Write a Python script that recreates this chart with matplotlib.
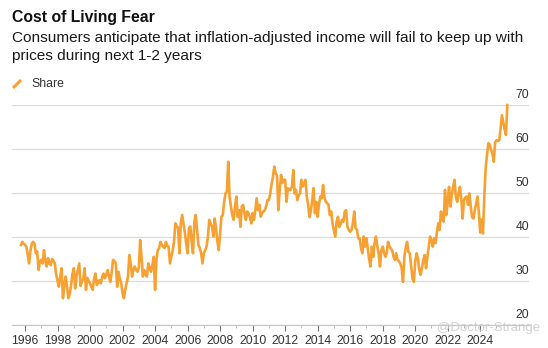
import numpy as np
import matplotlib
matplotlib.use("Agg")
import matplotlib.pyplot as plt
from matplotlib.lines import Line2D
import matplotlib.transforms as mtransforms

plt.rcParams["font.family"] = ["Liberation Sans", "DejaVu Sans"]

title = "Cost of Living Fear"
subtitle_lines = ["Consumers anticipate that inflation-adjusted income will fail to keep up with",
                  "prices during next 1-2 years"]
series_name = "Share"

# monthly readings, Oct 1995 through Sep 2025
first_month = 1995 + 9 / 12
share = [
    38.2, 38.9, 38.5,                                                    # 1995
    38.2, 37.8, 36.0, 34.0, 36.8, 38.5, 38.9, 38.5, 36.3, 36.7, 32.5, 34.5,  # 1996
    34.8, 34.0, 37.0, 34.5, 33.3, 35.2, 34.0, 33.6, 35.0, 34.6, 34.0, 31.5,  # 1997
    30.0, 28.7, 31.0, 32.9, 26.1, 29.0, 31.0, 28.7, 26.1, 27.0, 29.1, 31.5,  # 1998
    32.9, 28.3, 31.0, 32.5, 34.0, 28.9, 30.0, 30.5, 32.9, 28.0, 30.7, 30.0,  # 1999
    29.5, 28.6, 28.0, 30.5, 31.7, 29.1, 29.8, 30.2, 29.5, 31.0, 31.7, 30.6,  # 2000
    31.5, 32.5, 31.0, 29.8, 32.0, 34.8, 34.5, 34.0, 28.7, 32.1, 30.5, 29.5,  # 2001
    27.2, 26.1, 28.0, 29.5, 31.0, 35.9, 34.0, 31.0, 32.5, 33.3, 32.6, 32.1,  # 2002
    33.0, 39.3, 35.5, 31.0, 32.5, 31.5, 31.0, 34.0, 33.0, 32.1, 33.5, 35.5,  # 2003
    28.0, 34.8, 37.0, 37.5, 38.9, 38.2, 37.8, 37.5, 38.9, 38.0, 37.8, 34.0,  # 2004
    35.5, 37.0, 38.9, 43.1, 42.5, 42.0, 36.3, 43.1, 45.0, 43.0, 41.0, 38.5,  # 2005
    36.3, 42.0, 42.4, 39.0, 36.3, 43.5, 45.0, 41.6, 38.2, 37.5, 36.3, 34.0,  # 2006
    36.3, 37.0, 37.8, 40.1, 43.9, 43.0, 42.4, 40.1, 44.2, 42.0, 39.0, 37.0,  # 2007
    40.8, 44.6, 45.0, 48.0, 49.9, 50.3, 57.1, 49.2, 46.9, 45.0, 43.9, 46.9,  # 2008
    49.2, 44.6, 46.1, 42.3, 46.9, 47.3, 45.4, 43.9, 45.8, 45.4, 44.5, 43.1,  # 2009
    45.4, 43.9, 46.1, 48.8, 46.1, 47.3, 44.6, 45.4, 45.8, 46.1, 47.0, 48.4,  # 2010
    48.4, 49.9, 52.0, 53.7, 56.0, 54.5, 54.0, 46.1, 50.7, 54.1, 52.3, 53.0,  # 2011
    53.0, 48.0, 51.1, 50.7, 50.7, 51.5, 55.2, 49.9, 50.7, 48.4, 49.5, 49.9,  # 2012
    53.0, 51.5, 52.0, 53.0, 49.2, 47.3, 44.5, 46.0, 48.4, 51.1, 45.4, 48.0,  # 2013
    44.6, 47.5, 49.2, 48.8, 51.8, 49.0, 48.0, 47.7, 47.3, 45.0, 45.8, 43.0,  # 2014
    41.5, 40.1, 43.5, 44.6, 42.3, 43.0, 43.9, 43.5, 45.8, 46.1, 42.3, 41.6,  # 2015
    41.2, 41.6, 43.1, 45.8, 42.0, 41.6, 39.7, 39.7, 37.5, 36.3, 40.1, 37.8,  # 2016
    39.7, 37.4, 35.0, 33.3, 37.8, 35.5, 38.6, 40.1, 38.0, 36.3, 33.3, 37.0,  # 2017
    37.8, 36.5, 35.5, 36.3, 38.9, 37.8, 37.4, 37.0, 35.5, 34.8, 36.3, 34.8,  # 2018
    34.5, 34.0, 32.9, 29.8, 35.5, 37.5, 38.9, 36.6, 36.3, 33.3, 30.5, 29.8,  # 2019
    34.4, 36.3, 35.2, 32.5, 31.4, 33.0, 34.8, 35.9, 32.9, 35.5, 37.8, 40.1,  # 2020
    39.3, 37.8, 39.7, 38.6, 41.0, 43.1, 41.6, 45.8, 44.0, 43.5, 50.7, 45.0,  # 2021
    48.0, 51.4, 46.9, 49.5, 51.4, 53.0, 49.2, 48.0, 50.0, 51.4, 48.8, 44.2,  # 2022
    48.4, 49.0, 49.2, 47.3, 49.9, 46.9, 44.5, 44.2, 46.1, 47.7, 49.2, 45.5,  # 2023
    41.0, 44.0, 40.8, 49.0, 55.6, 58.6, 61.3, 61.0, 59.8, 59.0, 57.1, 61.5,  # 2024
    62.0, 61.8, 62.0, 64.5, 67.7, 66.1, 64.5, 63.2, 70.0,                    # 2025
]

y_ticks = [20, 30, 40, 50, 60, 70]
x_major = list(range(1996, 2025, 2))
x_minor = list(range(1997, 2026, 2))

line_color = "#f7a133"
text_color = "#333333"

t = first_month + np.arange(len(share)) / 12

fig = plt.figure(figsize=(5.48, 3.48), dpi=100)
ax = fig.add_axes([12 / 548, 1 - 325 / 348, 517 / 548, 220 / 348])

ax.plot(t, share, color=line_color, lw=1.9, solid_joinstyle="round", clip_on=False, zorder=3)

ax.set_xlim(1995.2, 2027.0)
ax.set_ylim(20, 70)

# horizontal grid, value labels sit above each line at the right edge
ax.set_yticks(y_ticks)
ax.tick_params(axis="y", length=0, labelleft=False, labelright=False)
ax.grid(axis="y", color="#dcdcdc", lw=0.9)
trans = mtransforms.blended_transform_factory(ax.transAxes, ax.transData)
for v in y_ticks:
    ax.text(1.0, v + 1.0, str(v), transform=trans, ha="right", va="bottom",
            fontsize=8.8, color=text_color)

ax.set_xticks(x_major)
ax.set_xticks(x_minor, minor=True)
ax.set_xticklabels([str(y) for y in x_major])
ax.tick_params(axis="x", which="major", length=4, width=0.8, color="#777777",
               labelsize=8.8, labelcolor=text_color, pad=3)
ax.tick_params(axis="x", which="minor", length=2, width=0.6, color="#aaaaaa")

for side in ["top", "right", "left"]:
    ax.spines[side].set_visible(False)
ax.spines["bottom"].set_color("#c8c8c8")
ax.spines["bottom"].set_linewidth(0.9)

# header
fig.text(12 / 548, 1 - 22 / 348, title, fontsize=11.3, fontweight="bold",
         color="#111111", va="baseline")
for i, line in enumerate(subtitle_lines):
    fig.text(12 / 548, 1 - (42 + 18 * i) / 348, line, fontsize=11.1, color="#1a1a1a",
             va="baseline")

# legend key
fig.add_artist(Line2D([13 / 548, 21 / 548], [1 - 88 / 348, 1 - 80 / 348],
                      color=line_color, lw=2.2, solid_capstyle="butt"))
fig.text(31 / 548, 1 - 87 / 348, series_name, fontsize=8.8, color=text_color, va="baseline")

fig.text(540 / 548, 1 - 328 / 348, "@Doctor-Strange", fontsize=9.5, color="#cccccc",
         ha="right", va="center", alpha=0.9, zorder=5)

fig.savefig("out.png", dpi=100, facecolor="white")
